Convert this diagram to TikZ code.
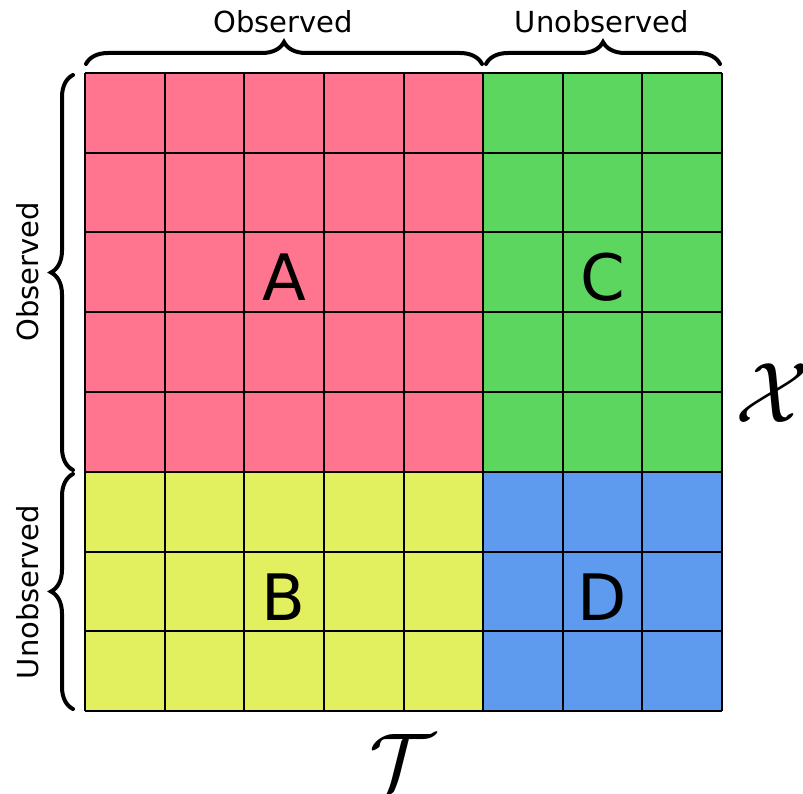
\documentclass[tikz,border=0pt]{standalone}
\usepackage{fontspec}
\setmainfont{DejaVu Sans}
\usetikzlibrary{decorations.pathreplacing}
\definecolor{cA}{RGB}{255,117,143}
\definecolor{cC}{RGB}{93,214,96}
\definecolor{cB}{RGB}{226,239,94}
\definecolor{cD}{RGB}{94,155,239}
\tikzset{
  gridline/.style={line width=2pt, black},
  bracestyle/.style={decorate, decoration={brace, amplitude=22pt}, line width=4pt, line cap=round},
  lbl/.style={font=\fontsize{29}{30}\selectfont, inner sep=0pt},
  letter/.style={font=\fontsize{64}{64}\selectfont, inner sep=0pt},
  calig/.style={inner sep=0pt}
}
\begin{document}
\begin{tikzpicture}[x=1pt,y=-1pt]
\useasboundingbox (0,0) rectangle (803,794);
\fill[cA] (85,73) rectangle (484,472);
\fill[cC] (484,73) rectangle (722,472);
\fill[cB] (85,472) rectangle (484,711);
\fill[cD] (484,472) rectangle (722,711);
\foreach \i in {0,...,8} {
  \draw[gridline] ({85+\i*79.625},73) -- ({85+\i*79.625},711);
  \draw[gridline] (85,{73+\i*79.75}) -- (722,{73+\i*79.75});
}
\node[letter] (A) at (284,277) {A};
\node[letter] (C) at (603,277) {C};
\node[letter] (B) at (283,597) {B};
\node[letter] (D) at (602,597) {D};
\coordinate (t1) at (86,64);
\coordinate (t2) at (482,64);
\coordinate (t3) at (486,64);
\coordinate (t4) at (720,64);
\draw[bracestyle] (t1) -- (t2);
\draw[bracestyle] (t3) -- (t4);
\coordinate (l1) at (73,470);
\coordinate (l2) at (73,75);
\coordinate (l3) at (73,709);
\coordinate (l4) at (73,474);
\draw[bracestyle] (l1) -- (l2);
\draw[bracestyle] (l3) -- (l4);
\node[lbl] (to) at (283,22) {Observed};
\node[lbl] (tu) at (602,22) {Unobserved};
\node[lbl, rotate=90] (lo) at (28,272) {Observed};
\node[lbl, rotate=90] (lu) at (28,592) {Unobserved};
\node[calig] (X) at (772,393) {\scalebox{8.6}{$\mathcal{X}$}};
\node[calig] (T) at (402,762) {\scalebox{8.2}{$\mathcal{T}$}};
\end{tikzpicture}
\end{document}
